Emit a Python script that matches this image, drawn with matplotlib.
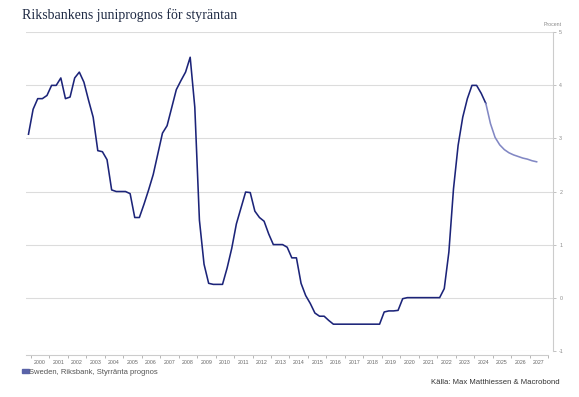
import numpy as np
import pandas as pd
import matplotlib
matplotlib.use('Agg')
import matplotlib.pyplot as plt
from matplotlib.patches import Patch

plt.rcParams['font.family'] = ['Liberation Sans', 'DejaVu Sans']

# quarterly policy rate (avg), 1999Q4 - 2027Q2, forecast from 2024Q3
rate = [3.08,
        3.55, 3.75, 3.75, 3.81,
        4.00, 4.00, 4.14, 3.75,
        3.78, 4.14, 4.25, 4.06,
        3.72, 3.40, 2.77, 2.75,
        2.60, 2.03, 2.00, 2.00,
        2.00, 1.96, 1.51, 1.51,
        1.76, 2.03, 2.32, 2.71,
        3.10, 3.24, 3.58, 3.92,
        4.09, 4.25, 4.53, 3.59,
        1.46, 0.63, 0.27, 0.25,
        0.25, 0.25, 0.56, 0.93,
        1.39, 1.69, 1.99, 1.98,
        1.63, 1.51, 1.44, 1.20,
        1.00, 1.00, 1.00, 0.95,
        0.75, 0.75, 0.27, 0.04,
        -0.11, -0.29, -0.35, -0.35,
        -0.43, -0.50, -0.50, -0.50,
        -0.50, -0.50, -0.50, -0.50,
        -0.50, -0.50, -0.50, -0.50,
        -0.27, -0.25, -0.25, -0.24,
        -0.02, 0.00, 0.00, 0.00,
        0.00, 0.00, 0.00, 0.00,
        0.00, 0.17, 0.86, 2.05,
        2.87, 3.40, 3.75, 4.00,
        4.00, 3.85, 3.66, 3.28,
        3.02, 2.88, 2.79, 2.73,
        2.69, 2.66, 2.63, 2.61,
        2.58, 2.56]
forecast_start = '2024Q3'

quarters = pd.period_range('1999Q4', periods=len(rate), freq='Q')
x = np.array(quarters.year + (quarters.quarter - 0.5) / 4)
y = np.array(rate)
split = list(quarters.astype(str)).index(forecast_start)

years = list(range(2000, 2028))
yticks = [-1, 0, 1, 2, 3, 4, 5]

dark = '#1c2479'
light = '#8288c4'
grid_c = '#dcdcdc'
txt_c = '#8a8a8a'

fig = plt.figure(figsize=(5.79, 3.97), dpi=100)
ax = fig.add_axes([0.0449, 0.1166, 0.9102, 0.802])

ax.plot(x[:split + 1], y[:split + 1], color=dark, lw=1.15, solid_joinstyle='round')
ax.plot(x[split:], y[split:], color=light, lw=1.15, solid_joinstyle='round')

ax.set_xlim(1999.74, 2028.26)
ax.set_ylim(-1, 5)

# y axis on the right
ax.yaxis.tick_right()
ax.set_yticks(yticks)
ax.set_yticklabels([str(v) for v in yticks])
ax.grid(axis='y', color=grid_c, lw=0.8)
ax.set_axisbelow(True)
ax.tick_params(axis='y', length=2.5, width=0.5, color='#aaaaaa', labelsize=3.8, labelcolor=txt_c, pad=2)

# x axis: ticks at year boundaries, labels in between
ax.set_xticks(years + [2028])
ax.set_xticklabels([])
ax.set_xticks([yr + 0.5 for yr in years], minor=True)
ax.set_xticklabels([str(yr) for yr in years], minor=True)
ax.tick_params(axis='x', which='major', length=2.5, width=0.5, color='#999999')
ax.tick_params(axis='x', which='minor', length=0, labelsize=3.8, labelcolor='#666666', pad=3.5)

for s in ['left', 'top']:
    ax.spines[s].set_visible(False)
ax.spines['right'].set_color('#cccccc')
ax.spines['right'].set_linewidth(0.8)
ax.spines['bottom'].set_color('#cccccc')
ax.spines['bottom'].set_linewidth(0.8)
ax.spines['bottom'].set_position(('outward', 3))
ax.spines['bottom'].set_bounds(1999.74, 2028.0)

fig.text(553 / 579, 1 - 25 / 397, 'Procent', fontsize=3.8, color=txt_c, ha='center', va='center')

fig.text(22 / 579, 1 - 15 / 397, 'Riksbankens juniprognos för styräntan',
         family='Liberation Serif', fontsize=10, color='#1f2a44', ha='left', va='center')

leg = fig.legend(handles=[Patch(color='#5a63a8', label='Sweden, Riksbank, Styrränta prognos')],
                 loc='center left', bbox_to_anchor=(18 / 579, 1 - 372 / 397), frameon=False,
                 fontsize=5.5, handlelength=0.9, handleheight=0.35, handletextpad=0.1, borderpad=0)
for t in leg.get_texts():
    t.set_color('#555555')

fig.text(560 / 579, 1 - 383 / 397, 'Källa: Max Matthiessen & Macrobond',
         fontsize=5.6, color='#333333', ha='right', va='center')

fig.savefig('out.png', dpi=100)
